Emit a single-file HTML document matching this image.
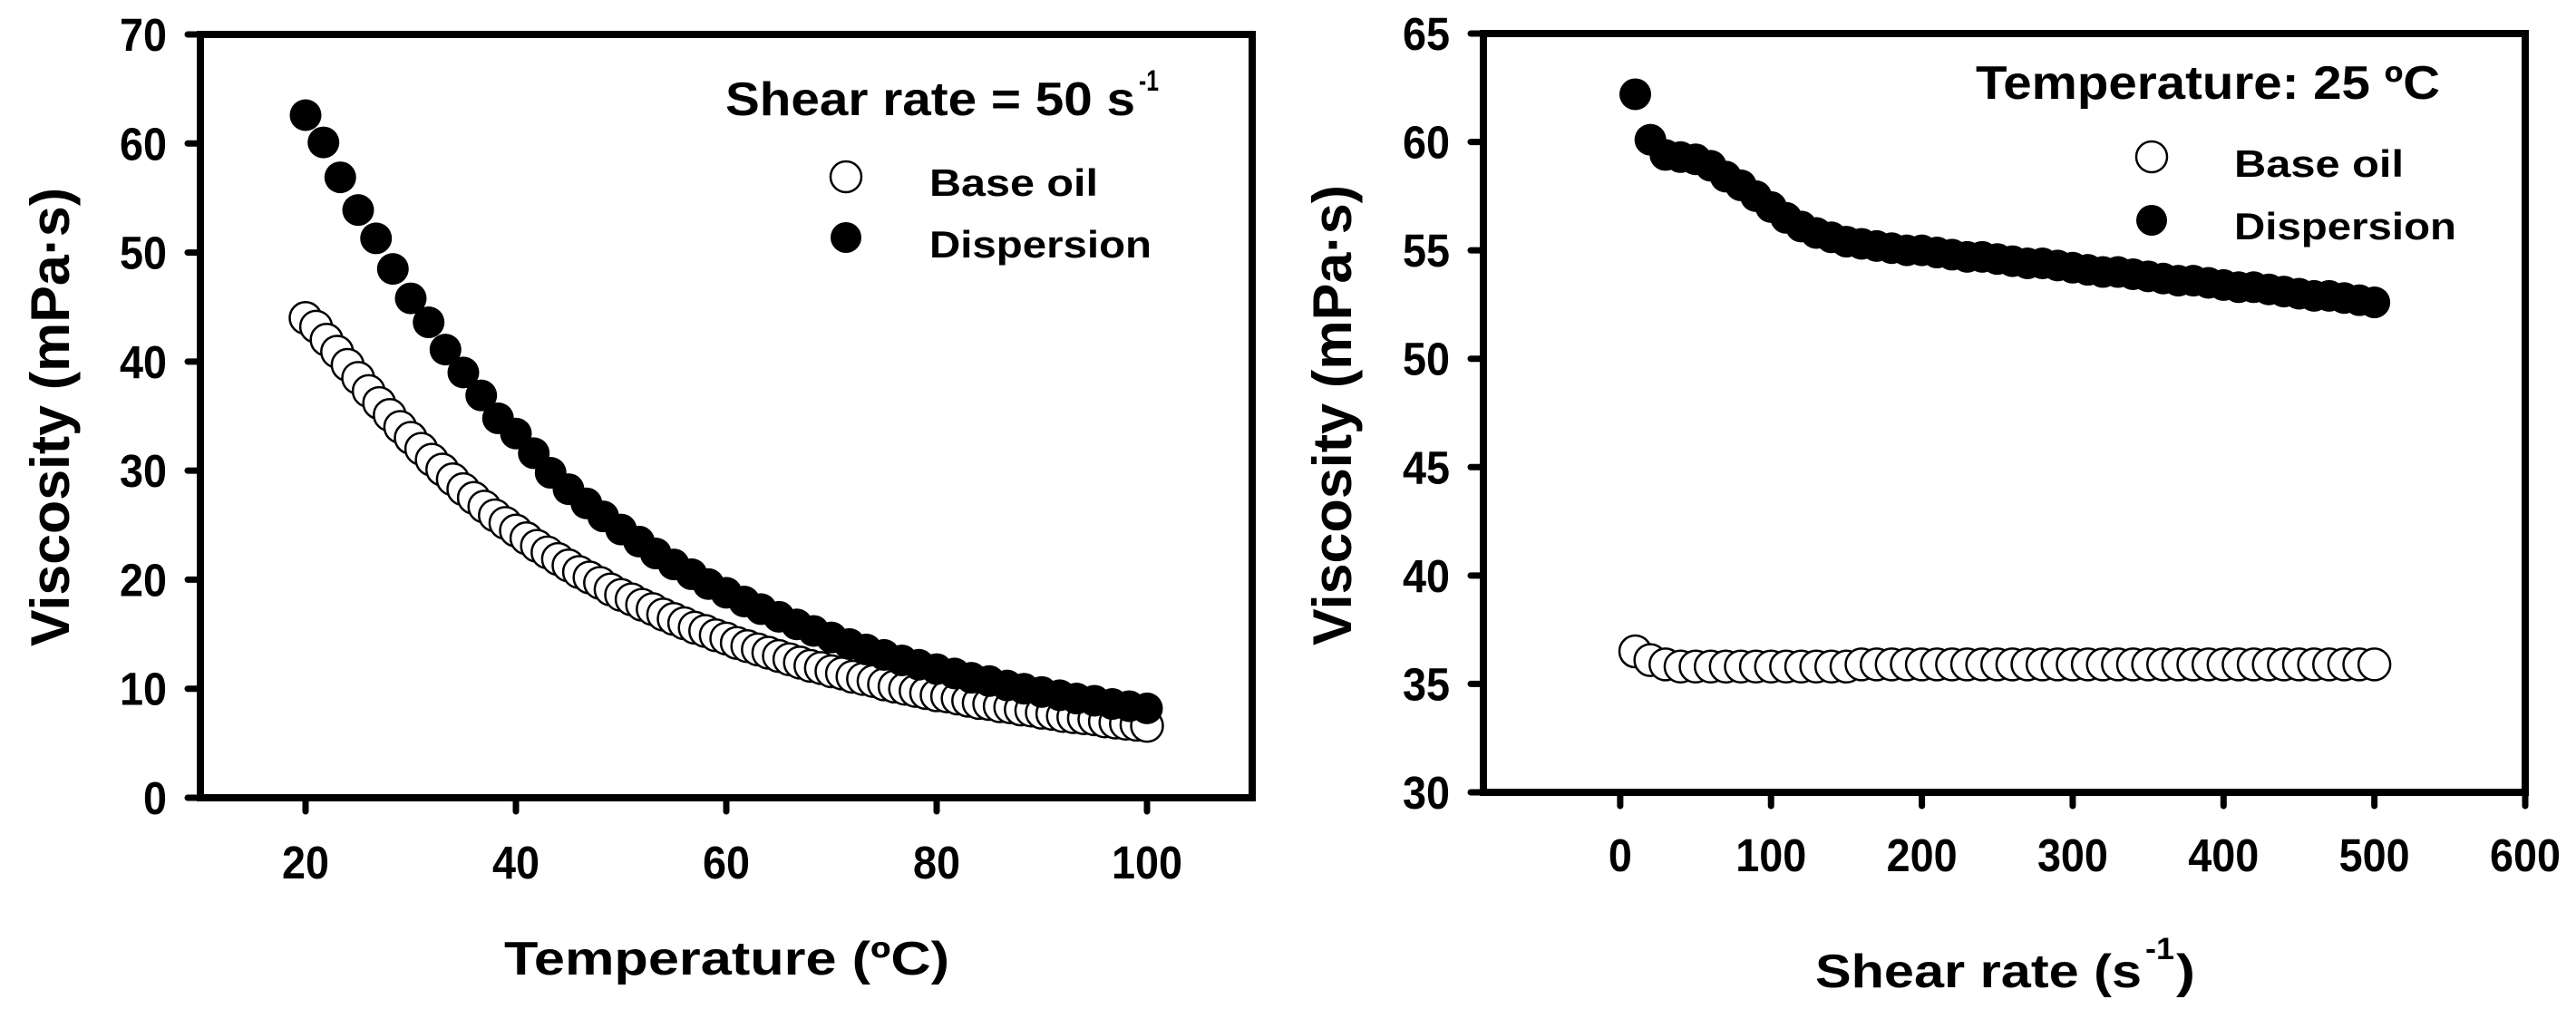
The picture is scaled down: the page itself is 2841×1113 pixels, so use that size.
<!DOCTYPE html>
<html><head><meta charset="utf-8"><style>
html,body{margin:0;padding:0;background:#fff;}
svg{display:block;}
text{font-family:"Liberation Sans",Arial,sans-serif;font-weight:bold;fill:#000;}
</style></head><body>
<svg id="fig" width="2841" height="1113" viewBox="0 0 2841 1113" xmlns="http://www.w3.org/2000/svg">
<rect width="2841" height="1113" fill="#fff"/>
<g id="left"></g>
<g id="right"></g>
<!-- static text -->
<text x="55" y="460" font-size="60" text-anchor="middle" textLength="506" lengthAdjust="spacingAndGlyphs" transform="rotate(-90 55 460) translate(0 21)">Viscosity (mPa·s)</text>
<text x="556" y="1075" font-size="52" textLength="491" lengthAdjust="spacingAndGlyphs">Temperature (ºC)</text>
<text x="1469" y="458" font-size="60" text-anchor="middle" textLength="508" lengthAdjust="spacingAndGlyphs" transform="rotate(-90 1469 458) translate(0 21)">Viscosity (mPa·s)</text>
<g>
<text x="2002" y="1089" font-size="52" textLength="360" lengthAdjust="spacingAndGlyphs">Shear rate (s</text>
<text x="2366" y="1058" font-size="34" textLength="32" lengthAdjust="spacingAndGlyphs">-1</text>
<text x="2400" y="1089" font-size="52" textLength="21" lengthAdjust="spacingAndGlyphs">)</text>
</g>
<g>
<text x="800" y="127" font-size="52" textLength="452" lengthAdjust="spacingAndGlyphs">Shear rate = 50 s</text>
<text x="1256" y="100" font-size="32" textLength="22" lengthAdjust="spacingAndGlyphs">-1</text>
<circle cx="933" cy="195" r="17" fill="#fff" stroke="#000" stroke-width="2.5"/>
<text x="1025" y="216" font-size="42" textLength="186" lengthAdjust="spacingAndGlyphs">Base oil</text>
<circle cx="933" cy="262" r="17" fill="#000"/>
<text x="1025" y="284" font-size="42" textLength="245" lengthAdjust="spacingAndGlyphs">Dispersion</text>
</g>
<g>
<text x="2179" y="109" font-size="52" textLength="512" lengthAdjust="spacingAndGlyphs">Temperature: 25 ºC</text>
<circle cx="2373" cy="173" r="17" fill="#fff" stroke="#000" stroke-width="2.5"/>
<text x="2464" y="195" font-size="42" textLength="187" lengthAdjust="spacingAndGlyphs">Base oil</text>
<circle cx="2373" cy="243" r="17" fill="#000"/>
<text x="2464" y="264" font-size="42" textLength="245" lengthAdjust="spacingAndGlyphs">Dispersion</text>
</g>
</svg>
<script>
// ---- Left chart data (viscosity vs temperature, 50 s^-1) ----
const leftXTicks = [20, 40, 60, 80, 100];
const leftYTicks = [0, 10, 20, 30, 40, 50, 60, 70];
const baseOilTemp = [20,21,22,23,24,25,26,27,28,29,30,31,32,33,34,35,36,37,38,39,40,41,42,43,44,45,46,47,48,49,50,51,52,53,54,55,56,57,58,59,60,61,62,63,64,65,66,67,68,69,70,71,72,73,74,75,76,77,78,79,80,81,82,83,84,85,86,87,88,89,90,91,92,93,94,95,96,97,98,99,100];
const baseOilVisc = [44.0,43.2,42.0,40.9,39.7,38.5,37.3,36.2,35.1,34.0,33.0,32.0,31.0,30.1,29.2,28.3,27.5,26.7,25.9,25.2,24.5,23.8,23.1,22.5,21.9,21.3,20.7,20.2,19.7,19.1,18.6,18.2,17.7,17.3,16.8,16.4,16.0,15.6,15.3,14.9,14.6,14.2,13.9,13.6,13.3,13.0,12.7,12.4,12.1,11.9,11.6,11.4,11.1,10.9,10.7,10.4,10.2,10.0,9.8,9.6,9.4,9.3,9.1,8.9,8.7,8.6,8.4,8.3,8.1,8.0,7.8,7.7,7.5,7.4,7.3,7.2,7.0,6.9,6.8,6.7,6.6];
const dispTemp = [20,21.7,23.3,25,26.7,28.3,30,31.7,33.3,35,36.7,38.3,40,41.7,43.3,45,46.7,48.3,50,51.7,53.3,55,56.7,58.3,60,61.7,63.3,65,66.7,68.3,70,71.7,73.3,75,76.7,78.3,80,81.7,83.3,85,86.7,88.3,90,91.7,93.3,95,96.7,98.3,100];
const dispVisc = [62.6,60.1,56.9,53.9,51.3,48.5,45.8,43.6,41.1,39.0,36.9,34.8,33.4,31.6,29.8,28.3,27.0,25.8,24.6,23.5,22.4,21.4,20.5,19.6,18.8,18.0,17.3,16.6,15.9,15.3,14.7,14.1,13.6,13.1,12.6,12.2,11.8,11.4,11.0,10.7,10.3,10.0,9.7,9.4,9.1,8.9,8.6,8.4,8.2];

// ---- Right chart data (viscosity vs shear rate, 25 C) ----
const rightXTicks = [0, 100, 200, 300, 400, 500, 600];
const rightYTicks = [30, 35, 40, 45, 50, 55, 60, 65];
const shearRate = [10,20,30,40,50,60,70,80,90,100,110,120,130,140,150,160,170,180,190,200,210,220,230,240,250,260,270,280,290,300,310,320,330,340,350,360,370,380,390,400,410,420,430,440,450,460,470,480,490,500];
const baseOilShear = [36.5,36.1,35.9,35.8,35.8,35.8,35.8,35.8,35.8,35.8,35.8,35.8,35.8,35.8,35.8,35.9,35.9,35.9,35.9,35.9,35.9,35.9,35.9,35.9,35.9,35.9,35.9,35.9,35.9,35.9,35.9,35.9,35.9,35.9,35.9,35.9,35.9,35.9,35.9,35.9,35.9,35.9,35.9,35.9,35.9,35.9,35.9,35.9,35.9,35.9];
const dispShear = [62.2,60.1,59.4,59.3,59.2,58.9,58.4,58.0,57.5,57.0,56.5,56.1,55.8,55.6,55.4,55.3,55.2,55.1,55.0,55.0,54.9,54.8,54.7,54.7,54.6,54.5,54.4,54.4,54.3,54.2,54.1,54.0,54.0,53.9,53.8,53.7,53.6,53.6,53.5,53.4,53.3,53.3,53.2,53.1,53.0,52.9,52.9,52.8,52.7,52.6];

const NS = "http://www.w3.org/2000/svg";
function mk(parent, tag, attrs) {
  const e = document.createElementNS(NS, tag);
  for (const k in attrs) e.setAttribute(k, attrs[k]);
  parent.appendChild(e);
  return e;
}
function lin(d0, d1, r0, r1) { return v => r0 + (v - d0) * (r1 - r0) / (d1 - d0); }

function drawChart(g, cfg) {
  const sx = lin(cfg.xmin, cfg.xmax, cfg.left, cfg.right);
  const sy = lin(cfg.ymin, cfg.ymax, cfg.bottom, cfg.top);
  const frame = mk(g, 'rect', {x: cfg.left, y: cfg.top, width: cfg.right - cfg.left, height: cfg.bottom - cfg.top, fill: 'none', stroke: '#000', 'stroke-width': 8});
  
  
  cfg.yTicks.forEach(v => {
    const y = sy(v);
    const t = mk(g, 'line', {x1: cfg.left - 14, x2: cfg.left, y1: y, y2: y, stroke: '#000', 'stroke-width': 7, 'stroke-linecap': 'round'});
    
    
    const s = String(v);
    const lb = mk(g, 'text', {x: cfg.yLabelRight, y: y + 18, 'font-size': 51, 'text-anchor': 'end', textLength: s.length * 26, lengthAdjust: 'spacingAndGlyphs'});
    lb.textContent = s;
    
    
  });
  cfg.xTicks.forEach(v => {
    const x = sx(v);
    const t = mk(g, 'line', {x1: x, x2: x, y1: cfg.bottom, y2: cfg.bottom + 15, stroke: '#000', 'stroke-width': 7, 'stroke-linecap': 'round'});
    
    
    const s = String(v);
    const lb = mk(g, 'text', {x: x, y: cfg.xLabelY, 'font-size': 51, 'text-anchor': 'middle', textLength: s.length * 26, lengthAdjust: 'spacingAndGlyphs'});
    lb.textContent = s;
    
    
  });
  cfg.series.forEach(sr => {
    const sg = mk(g, 'g', {});
    
    
    sr.xs.forEach((xv, i) => {
      const c = mk(sg, 'circle', {cx: sx(xv), cy: sy(sr.ys[i]), r: 17.5, fill: sr.filled ? '#000' : '#fff', stroke: '#000', 'stroke-width': sr.filled ? 0 : 2.5});
      
      
    });
  });
}

drawChart(document.getElementById('left'), {
  xmin: 10, xmax: 110, ymin: 0, ymax: 70,
  left: 221, right: 1381, top: 38, bottom: 880,
  xTicks: leftXTicks, yTicks: leftYTicks,
  yLabelRight: 184, xLabelY: 969,
  series: [
    {name: 'base-oil-series', pointName: 'base-oil-point', xs: baseOilTemp, ys: baseOilVisc, filled: false},
    {name: 'dispersion-series', pointName: 'dispersion-point', xs: dispTemp, ys: dispVisc, filled: true}
  ]
});
drawChart(document.getElementById('right'), {
  xmin: -90.7, xmax: 600, ymin: 30, ymax: 65,
  left: 1636, right: 2785, top: 37, bottom: 874,
  xTicks: rightXTicks, yTicks: rightYTicks,
  yLabelRight: 1599, xLabelY: 961,
  series: [
    {name: 'base-oil-series', pointName: 'base-oil-point', xs: shearRate, ys: baseOilShear, filled: false},
    {name: 'dispersion-series', pointName: 'dispersion-point', xs: shearRate, ys: dispShear, filled: true}
  ]
});
</script>
</body></html>
